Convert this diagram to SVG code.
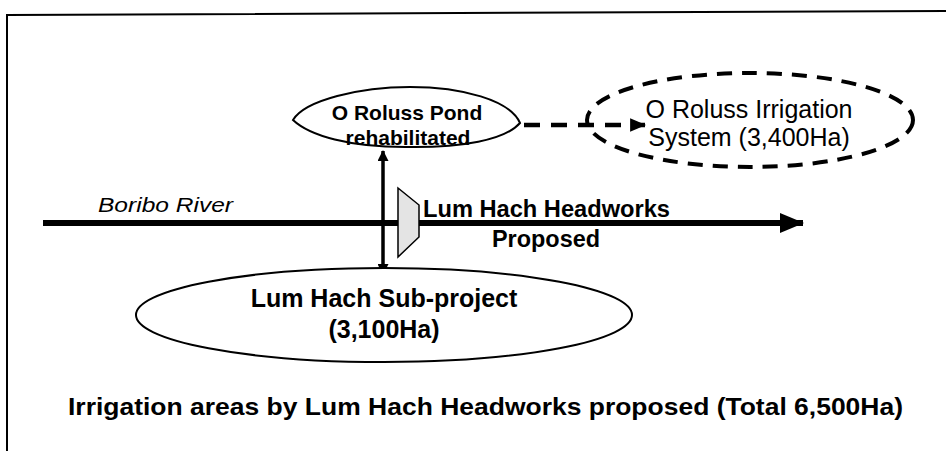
<svg xmlns="http://www.w3.org/2000/svg" width="946" height="451" viewBox="0 0 946 451">
  <defs>
    <marker id="headSmall" viewBox="0 0 12 12" refX="11" refY="6" markerWidth="12" markerHeight="11" markerUnits="userSpaceOnUse" orient="auto-start-reverse">
      <path d="M0,0 L12,6 L0,12 Z" fill="#000"/>
    </marker>
    <marker id="headDash" viewBox="0 0 14 14" refX="13" refY="7" markerWidth="16" markerHeight="16" markerUnits="userSpaceOnUse" orient="auto">
      <path d="M0,1 L14,7 L0,13 Z" fill="#000"/>
    </marker>
    <marker id="headRiver" viewBox="0 0 24 20" refX="23" refY="10" markerWidth="24" markerHeight="20" markerUnits="userSpaceOnUse" orient="auto">
      <path d="M0,0 L24,10 L0,20 Z" fill="#000"/>
    </marker>
  </defs>
  <style>
    .b { font-family: "Liberation Sans", Arial, sans-serif; font-weight: bold; fill: #000; }
    .r { font-family: "Liberation Sans", Arial, sans-serif; fill: #000; }
    .outline { fill: #fff; stroke: #000; stroke-width: 2; }
  </style>
  <rect width="946" height="451" fill="#fff"/>
  <path d="M7,451 L7,15 L946,11" fill="none" stroke="#000" stroke-width="2"/>

  <g id="connectors">
    <line x1="43" y1="223" x2="803" y2="223" stroke="#000" stroke-width="6" marker-end="url(#headRiver)"/>
    <line x1="383" y1="151" x2="383" y2="274" stroke="#000" stroke-width="3.5" marker-start="url(#headSmall)" marker-end="url(#headSmall)"/>
    <line x1="497" y1="125" x2="645" y2="125" stroke="#000" stroke-width="4.5" stroke-dasharray="16 11" marker-end="url(#headDash)"/>
  </g>

  <g id="pond">
    <path class="outline" stroke-width="1.6" d="M293,120 C305,100 360,87 410,87 C462,87 510,100 520,123 C505,140 462,148 405,147 C350,147 310,136 293,120 Z"/>
    <text class="b" x="407" y="120" font-size="21" text-anchor="middle">O Roluss Pond</text>
    <text class="b" x="408" y="145" font-size="21" text-anchor="middle">rehabilitated</text>
  </g>

  <g id="irrigation-system">
    <ellipse cx="750" cy="120" rx="163" ry="47" fill="none" stroke="#000" stroke-width="4" stroke-dasharray="15 10"/>
    <text class="r" x="749" y="118" font-size="25" text-anchor="middle">O Roluss Irrigation</text>
    <text class="r" x="749" y="146" font-size="25" text-anchor="middle">System (3,400Ha)</text>
  </g>

  <g id="river-label">
    <text class="r" x="98" y="212" font-size="20" font-style="italic" textLength="135" lengthAdjust="spacingAndGlyphs">Boribo River</text>
  </g>

  <g id="headworks">
    <polygon points="398,188 419,205 419,237 398,257" fill="#e4e4e4" stroke="#000" stroke-width="1.5"/>
    <text class="b" x="423" y="217" font-size="23" textLength="247" lengthAdjust="spacingAndGlyphs">Lum Hach Headworks</text>
    <text class="b" x="492" y="247" font-size="23" textLength="108" lengthAdjust="spacingAndGlyphs">Proposed</text>
  </g>

  <g id="subproject">
    <ellipse class="outline" cx="384" cy="315" rx="248" ry="47" fill="none"/>
    <text class="b" x="384" y="307" font-size="25" text-anchor="middle">Lum Hach Sub-project</text>
    <text class="b" x="384" y="338" font-size="25" text-anchor="middle">(3,100Ha)</text>
  </g>

  <g id="caption">
    <text class="b" x="68" y="415" font-size="24" textLength="835" lengthAdjust="spacingAndGlyphs">Irrigation areas by Lum Hach Headworks proposed (Total 6,500Ha)</text>
  </g>
</svg>
